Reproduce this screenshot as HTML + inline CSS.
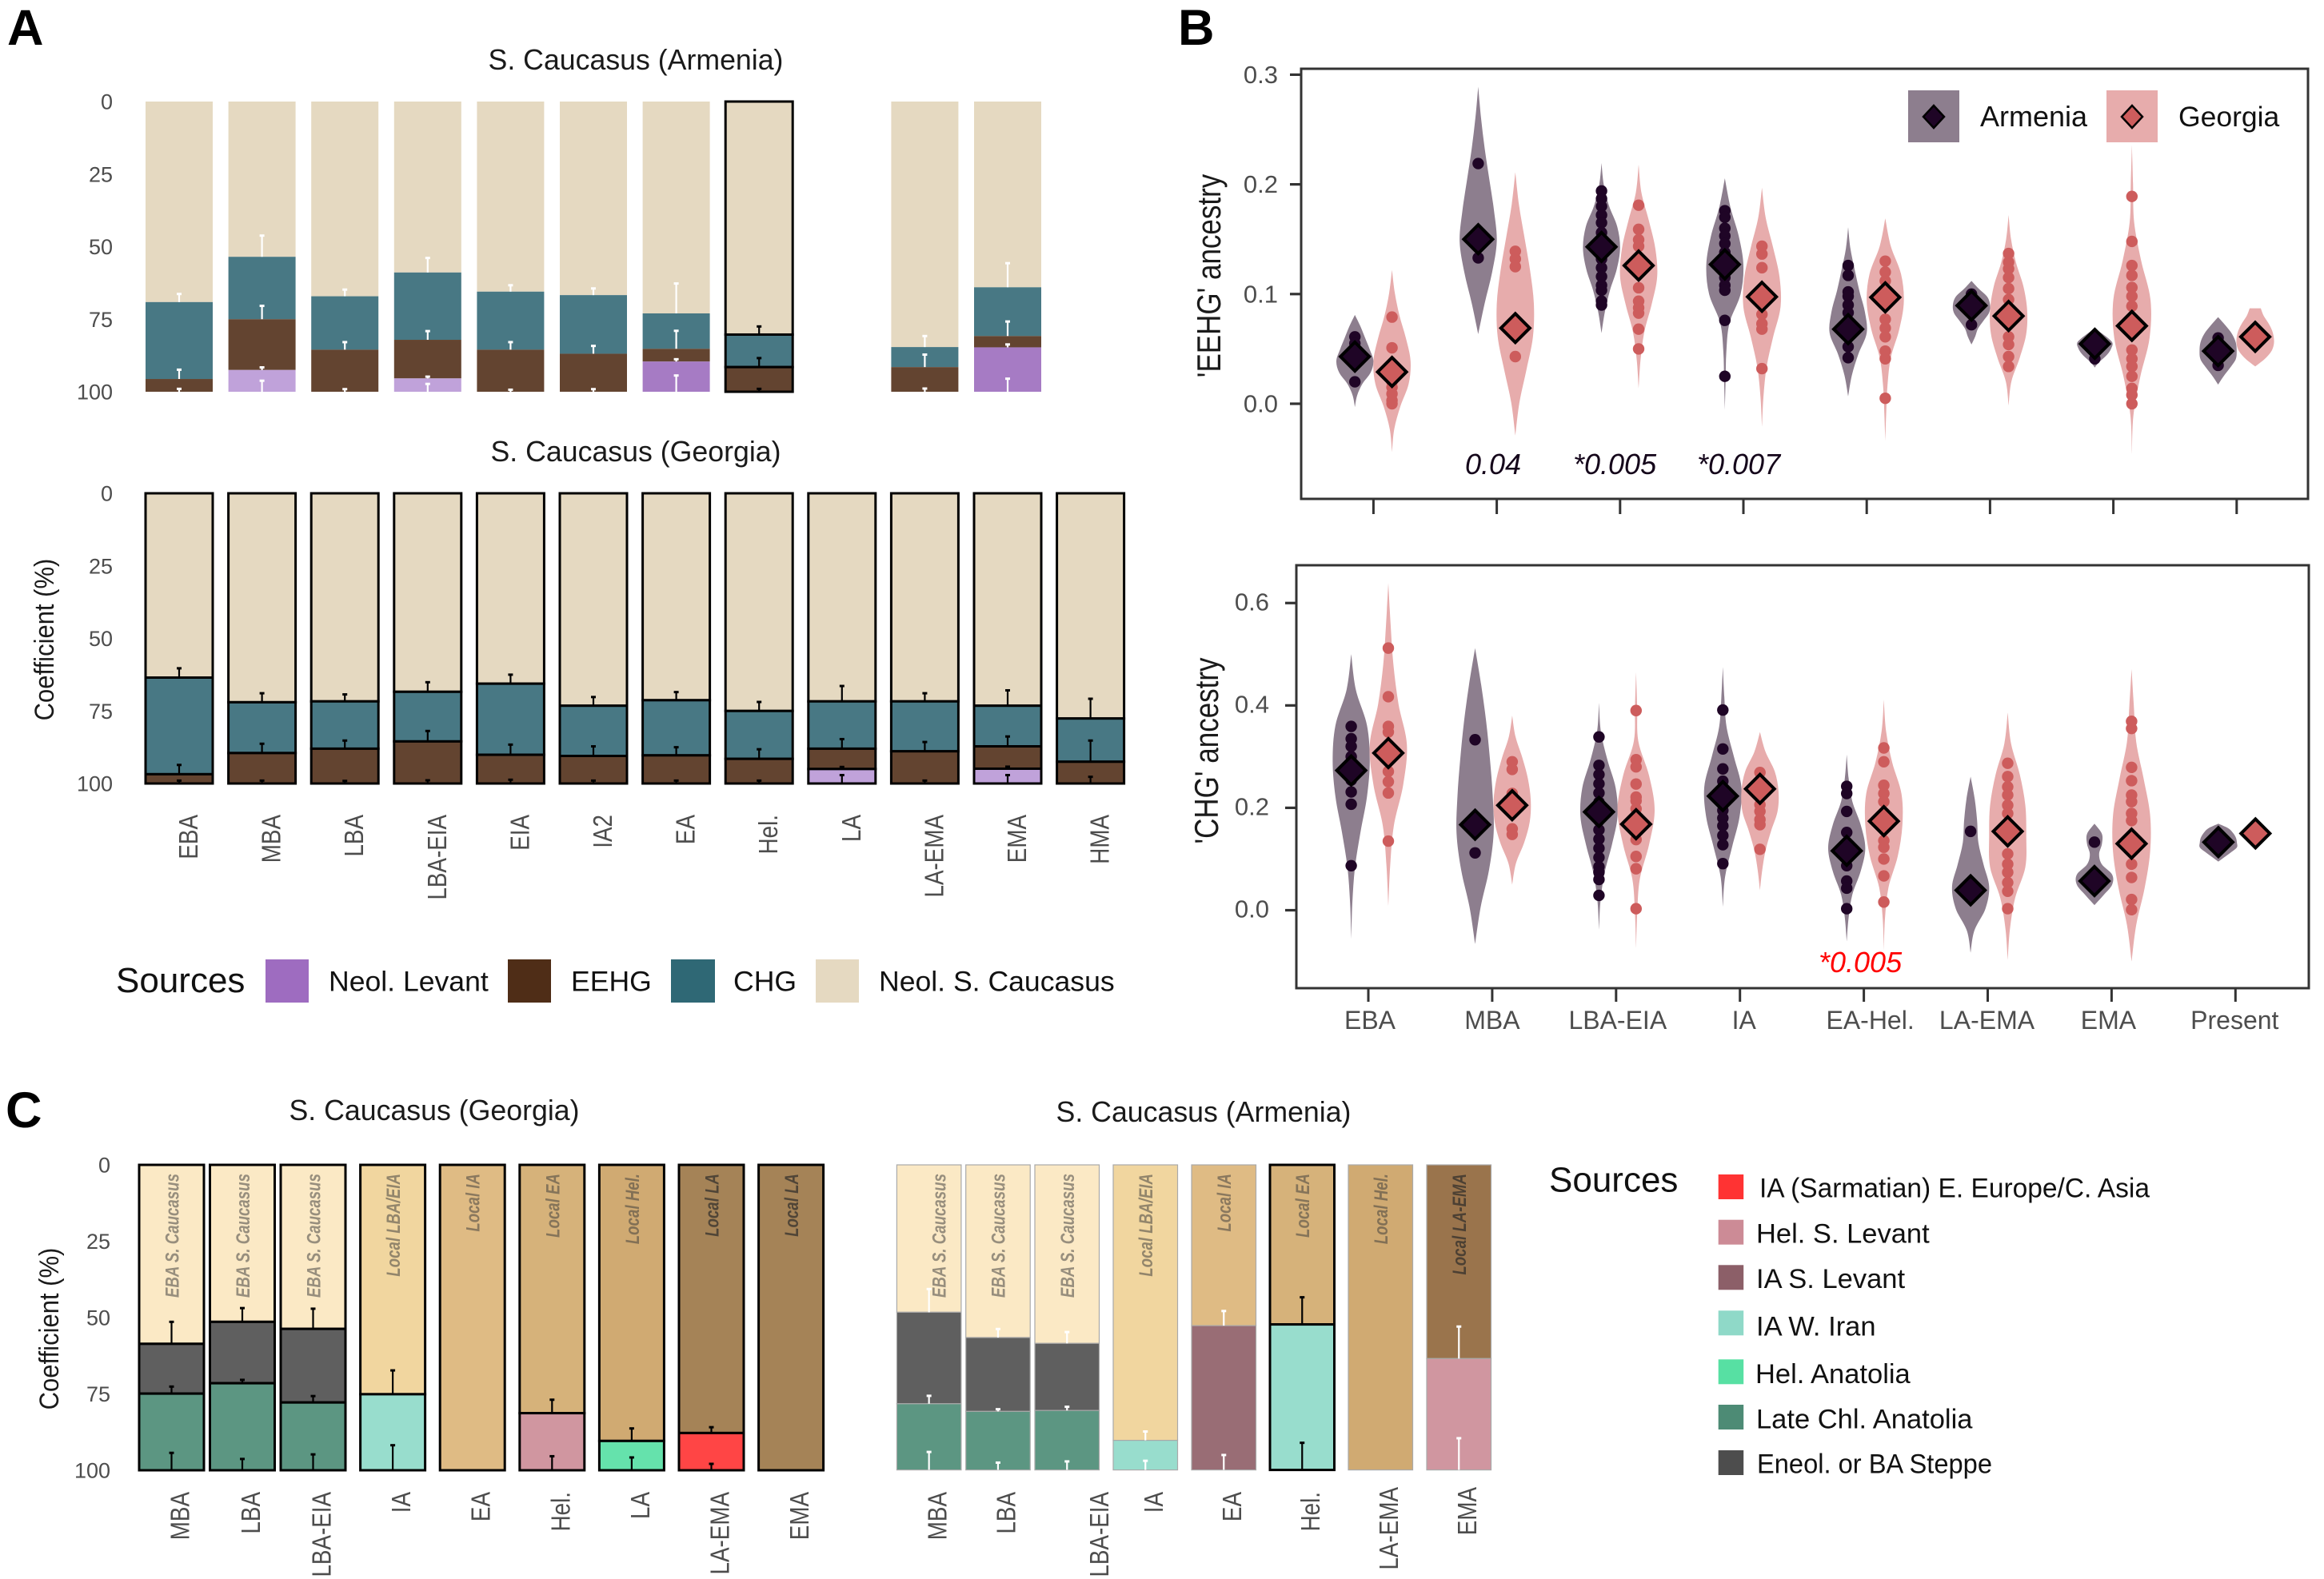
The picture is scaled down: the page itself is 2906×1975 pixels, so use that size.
<!DOCTYPE html>
<html lang="en">
<head>
<meta charset="utf-8">
<title>Ancestry coefficients in the South Caucasus</title>
<style>
html,body{margin:0;padding:0;background:#fff;}
svg{display:block;font-family:"Liberation Sans",sans-serif;}
</style>
</head>
<body>
<svg id="figure" xmlns="http://www.w3.org/2000/svg" width="2906" height="1975" viewBox="0 0 2906 1975">
<rect width="2906" height="1975" fill="#fff"/>

<text x="9" y="56" font-size="63" font-weight="bold">A</text>
<text x="1473" y="56" font-size="63" font-weight="bold">B</text>
<text x="7" y="1410" font-size="63" font-weight="bold">C</text>

<text x="795" y="87" font-size="35.7" text-anchor="middle" fill="#1a1a1a">S. Caucasus (Armenia)</text>
<text x="795" y="577" font-size="35.7" text-anchor="middle" fill="#1a1a1a">S. Caucasus (Georgia)</text>
<text x="543" y="1401" font-size="35.7" text-anchor="middle" fill="#1a1a1a">S. Caucasus (Georgia)</text>
<text x="1505" y="1403" font-size="35.7" text-anchor="middle" fill="#1a1a1a">S. Caucasus (Armenia)</text>

<text transform="translate(67,800) rotate(-90) scale(1,1.1)" font-size="31" text-anchor="middle" fill="#1a1a1a">Coefficient (%)</text>
<text transform="translate(73,1662) rotate(-90) scale(1,1.1)" font-size="31" text-anchor="middle" fill="#1a1a1a">Coefficient (%)</text>
<text transform="translate(1526,345) rotate(-90) scale(1,1.18)" font-size="35" text-anchor="middle" fill="#1a1a1a">'EEHG' ancestry</text>
<text transform="translate(1523,939) rotate(-90) scale(1,1.18)" font-size="35" text-anchor="middle" fill="#1a1a1a">'CHG' ancestry</text>

<g>
  <text x="145" y="1241" font-size="44" fill="#111">Sources</text>
  <rect x="332" y="1200" width="54" height="54" fill="#9e6cc0"/>
  <text x="411" y="1239.5" font-size="35.6" fill="#111">Neol. Levant</text>
  <rect x="635" y="1200" width="54" height="54" fill="#4f2d17"/>
  <text x="714" y="1239.5" font-size="35.6" fill="#111">EEHG</text>
  <rect x="839" y="1200" width="55" height="54" fill="#2f6875"/>
  <text x="917" y="1239.5" font-size="35.6" fill="#111">CHG</text>
  <rect x="1020" y="1200" width="54" height="54" fill="#e5d9c1"/>
  <text x="1099" y="1239.5" font-size="35.6" fill="#111">Neol. S. Caucasus</text>
</g>

<g>
  <text x="1937" y="1490.5" font-size="44" fill="#111">Sources</text>
  <rect x="2148.7" y="1469" width="31.5" height="31" fill="#ff3333"/>
  <text x="2200" y="1497.3" font-size="34.5" fill="#111" textLength="488" lengthAdjust="spacingAndGlyphs">IA (Sarmatian) E. Europe/C. Asia</text>
  <rect x="2148.7" y="1525.7" width="31.5" height="31" fill="#cc8b96"/>
  <text x="2196" y="1554.3" font-size="34.5" fill="#111">Hel. S. Levant</text>
  <rect x="2148.7" y="1582.3" width="31.5" height="31" fill="#8c5f68"/>
  <text x="2196" y="1611" font-size="34.5" fill="#111">IA S. Levant</text>
  <rect x="2148.7" y="1639.3" width="31.5" height="31" fill="#8fd9c8"/>
  <text x="2196" y="1670.7" font-size="34.5" fill="#111">IA W. Iran</text>
  <rect x="2148.7" y="1700.3" width="31.5" height="31" fill="#57e0a3"/>
  <text x="2195" y="1730" font-size="34.5" fill="#111">Hel. Anatolia</text>
  <rect x="2148.7" y="1757" width="31.5" height="31" fill="#4d8b75"/>
  <text x="2196" y="1786.7" font-size="34.5" fill="#111">Late Chl. Anatolia</text>
  <rect x="2148.7" y="1814" width="31.5" height="31" fill="#4d4d4d"/>
  <text x="2197" y="1842.7" font-size="34.5" fill="#111" textLength="294" lengthAdjust="spacingAndGlyphs">Eneol. or BA Steppe</text>
</g>

<g id="plot-a-armenia"></g>
<g id="plot-a-georgia"></g>
<g id="plot-c-georgia"></g>
<g id="plot-c-armenia"></g>
<g id="plot-b-eehg"></g>
<g id="plot-b-chg"></g>

<g>
  <rect x="2386" y="113" width="64" height="65" fill="#8d7e8e"/>
  <path d="M2418 132 L2431 146 L2418 160 L2405 146 Z" fill="#1f0526" stroke="#000" stroke-width="2.5"/>
  <text x="2476" y="158" font-size="36" fill="#111">Armenia</text>
  <rect x="2634" y="113" width="64" height="65" fill="#e7acac"/>
  <path d="M2666 132 L2679 146 L2666 160 L2653 146 Z" fill="#cd5c5c" stroke="#000" stroke-width="2.5"/>
  <text x="2724" y="158" font-size="35.5" fill="#111">Georgia</text>
</g>

<text x="1832" y="593" font-size="36" font-style="italic" fill="#14051a">0.04</text>
<text x="1967" y="593" font-size="36" font-style="italic" fill="#14051a">*0.005</text>
<text x="2122" y="593" font-size="36" font-style="italic" fill="#14051a">*0.007</text>
<text x="2274" y="1216" font-size="36" font-style="italic" fill="#ff0000">*0.005</text>
</svg>

<script>
/* ---------- Panel A, Armenia ---------- */
const aArmCategories = ['EBA','MBA','LBA','LBA-EIA','EIA','IA2','EA','Hel.','LA','LA-EMA','EMA'];
const aArmNeolCaucasus = [69.1,53.5,67.1,58.9,65.5,66.7,73.0,80.3,null,84.6,64.0];
const aArmChg = [26.5,21.5,18.4,23.2,20.0,20.2,12.2,11.2,null,6.9,16.8];
const aArmEehg = [4.4,17.5,14.5,13.3,14.5,13.1,4.4,8.5,null,8.5,3.9];
const aArmLevant = [0,7.5,0,4.6,0,0,10.4,0,null,0,15.3];
const aArmNeolErr = [2.8,7.3,2.3,5.0,2.2,2.3,10.3,2.8,null,3.8,8.3];
const aArmChgErr = [3.2,4.6,2.6,3.0,2.6,2.7,6.2,3.1,null,4.3,5.0];
const aArmEehgErr = [1.0,0.9,0.9,0.6,0.7,0.9,0.8,1.0,null,1.1,1.0];
const aArmLevantErr = [0,3.8,0,2.7,0,0,5.6,0,null,0,4.5];

/* ---------- Panel A, Georgia ---------- */
const aGeoCategories = ['EBA','MBA','LBA','LBA-EIA','EIA','IA2','EA','Hel.','LA','LA-EMA','EMA','HMA'];
const aGeoNeolCaucasus = [63.5,72.0,71.7,68.4,65.6,73.2,71.3,75.0,71.7,71.7,73.2,77.6];
const aGeoChg = [33.3,17.5,16.3,17.1,24.5,17.3,19.0,16.5,16.3,17.2,14.0,14.9];
const aGeoEehg = [3.2,10.5,12.0,14.5,9.9,9.5,9.7,8.5,7.0,11.1,7.7,7.5];
const aGeoLevant = [0,0,0,0,0,0,0,0,5.0,0,5.1,0];
const aGeoNeolErr = [3.2,3.1,2.4,3.3,3.1,3.0,2.8,3.1,5.3,2.8,5.3,6.8];
const aGeoChgErr = [3.2,3.2,2.8,3.6,3.5,3.3,2.8,3.3,3.3,3.2,3.4,7.3];
const aGeoEehgErr = [1.0,1.0,0.9,1.1,1.3,1.0,1.0,1.0,0.7,1.0,0.7,2.3];
const aGeoLevantErr = [0,0,0,0,0,0,0,0,2.9,0,2.9,0];

const coefficientTicks = [0,25,50,75,100];

/* ---------- Panel C, Georgia ---------- */
const cGeoCategories = ['MBA','LBA','LBA-EIA','IA','EA','Hel.','LA','LA-EMA','EMA'];
const cGeoLocalSources = ['EBA S. Caucasus','EBA S. Caucasus','EBA S. Caucasus','Local LBA/EIA','Local IA','Local EA','Local Hel.','Local LA','Local LA'];
const cGeoLocalPct = [58.6,51.4,53.7,75.1,100,81.3,90.4,87.8,100];
const cGeoSteppePct = [16.3,20.1,24.1,0,0,0,0,0,0];
const cGeoLateChlPct = [25.1,28.5,22.2,0,0,0,0,0,0];
const cGeoIaWIranPct = [0,0,0,24.9,0,0,0,0,0];
const cGeoHelSLevantPct = [0,0,0,0,0,18.7,0,0,0];
const cGeoHelAnatoliaPct = [0,0,0,0,0,0,9.6,0,0];
const cGeoSarmatianPct = [0,0,0,0,0,0,0,12.2,0];
const cGeoLocalErr = [7.2,4.5,6.6,7.8,0,4.4,4.1,1.9,0];
const cGeoSteppeErr = [2.3,1.1,2.1,0,0,0,0,0,0];
const cGeoLowerErr = [5.7,3.7,5.2,8.2,0,4.6,4.2,2.1,0];

/* ---------- Panel C, Armenia ---------- */
const cArmCategories = ['MBA','LBA','LBA-EIA','IA','EA','Hel.','LA-EMA','EMA'];
const cArmLocalSources = ['EBA S. Caucasus','EBA S. Caucasus','EBA S. Caucasus','Local LBA/EIA','Local IA','Local EA','Local Hel.','Local LA-EMA'];
const cArmLocalPct = [48.3,56.6,58.5,90.3,52.7,52.3,100,63.5];
const cArmSteppePct = [30.0,24.2,22.0,0,0,0,0,0];
const cArmLateChlPct = [21.7,19.2,19.5,0,0,0,0,0];
const cArmIaWIranPct = [0,0,0,9.7,0,47.7,0,0];
const cArmIaSLevantPct = [0,0,0,0,47.3,0,0,0];
const cArmHelSLevantPct = [0,0,0,0,0,0,0,36.5];
const cArmLocalErr = [7.6,2.8,3.7,2.9,4.8,8.9,0,10.5];
const cArmSteppeErr = [2.6,0.7,1.2,0,0,0,0,0];
const cArmLowerErr = [5.9,2.4,2.8,3.0,4.9,8.9,0,10.4];

/* ---------- Panel B, shared ---------- */
const bPeriods = ['EBA','MBA','LBA-EIA','IA','EA-Hel.','LA-EMA','EMA','Present'];
const eehgTicks = [0.0,0.1,0.2,0.3];
const chgTicks = [0.0,0.2,0.4,0.6];

/* ---------- Panel B, EEHG ---------- */
const eehgArmeniaLo = [-0.003,0.0635,0.0644,-0.0055,0.0067,0.054,0.033,0.0175];
const eehgArmeniaHi = [0.081,0.289,0.2194,0.2055,0.161,0.112,0.069,0.079];
const eehgArmeniaDensity = [
 [0,.12,.4,.85,1,.8,.55,.3,0],
 [0,.35,.75,1,.85,.6,.35,.15,0],
 [0,.18,.45,.82,1,.85,.4,.12,0],
 [0,.04,.08,.25,.85,1,.75,.3,0],
 [0,.2,.55,1,.9,.6,.35,.12,0],
 [0,.2,.35,.65,.95,1,.85,.4,0],
 [0,.2,.5,.75,.9,.95,.7,.35,0],
 [0,.3,.65,.95,1,.95,.75,.4,0]
];
const eehgArmeniaPoints = [
 [.061,.055,.05,.045,.02],
 [.219,.133],
 [.194,.187,.18,.172,.165,.156,.148,.14,.132,.124,.116,.108,.1035,.0935,.09],
 [.176,.17,.16,.153,.146,.138,.13,.122,.115,.108,.1035,.076,.025],
 [.126,.117,.102,.098,.09,.083,.07,.061,.052,.042],
 [.1,.085,.072],
 [.055,.041],
 [.06,.05,.035]
];
const eehgArmeniaMean = [.043,.15,.143,.127,.068,.0895,.0546,.048];

const eehgGeorgiaLo = [-0.044,-0.029,0.014,-0.021,-0.034,-0.0015,-0.046,0.034];
const eehgGeorgiaHi = [0.122,0.211,0.218,0.197,0.169,0.172,0.236,0.087];
const eehgGeorgiaDensity = [
 [0,.12,.45,.9,1,.75,.4,.15,0],
 [0,.22,.6,.95,1,.8,.5,.2,0],
 [0,.1,.3,.7,1,.9,.55,.15,0],
 [0,.08,.25,.6,1,.95,.6,.2,0],
 [0,.05,.12,.3,.75,1,.85,.3,0],
 [0,.15,.6,.95,1,.8,.4,.13,0],
 [0,.08,.45,.95,1,.5,.12,.06,0],
 [0,.5,.85,1,1,.9,.7,.45,.3]
];
const eehgGeorgiaPoints = [
 [.079,.051,.02,.015,.009,.003,0],
 [.139,.132,.125,.043],
 [.181,.159,.1495,.1436,.1057,.0935,.0875,.0826,.068,.05],
 [.1436,.1365,.124,.0815,.073,.068,.032],
 [.13,.12,.112,.077,.069,.061,.048,.041,.005],
 [.137,.129,.123,.115,.105,.095,.061,.054,.043,.034],
 [.189,.148,.126,.117,.106,.098,.089,.049,.041,.034,.025,.014,.008,0],
 [.061]
];
const eehgGeorgiaMean = [.029,.069,.126,.0975,.097,.08,.071,.061];

/* ---------- Panel B, CHG ---------- */
const chgArmeniaLo = [-0.056,-0.066,-0.038,0.0066,-0.061,-0.083,0.01,0.095];
const chgArmeniaHi = [0.5,0.512,0.405,0.475,0.304,0.261,0.169,0.169];
const chgArmeniaDensity = [
 [0,.06,.2,.5,.85,1,.85,.25,0],
 [0,.3,.75,1,.95,.8,.6,.33,0],
 [0,.08,.3,.7,1,.9,.45,.1,0],
 [0,.12,.5,.9,1,.6,.2,.08,0],
 [0,.1,.3,.75,1,.75,.3,.1,0],
 [0,.2,.8,1,.7,.42,.35,.22,0],
 [0,.5,.95,.95,.4,.25,.4,.4,0],
 [0,.35,.7,1,1,.95,.8,.55,0]
];
const chgArmeniaPoints = [
 [.359,.335,.32,.3,.254,.231,.207,.087],
 [.333,.112],
 [.3385,.283,.265,.247,.229,.211,.193,.175,.157,.139,.121,.103,.085,.074,.06,.029],
 [.391,.315,.276,.252,.23,.21,.195,.18,.165,.146,.128,.091],
 [.242,.228,.193,.152,.087,.057,.043,.003],
 [.154],
 [.133],
 [.133]
];
const chgArmeniaMean = [.273,.167,.192,.223,.116,.039,.057,.133];

const chgGeorgiaLo = [0.008,0.05,-0.074,0.039,-0.078,-0.097,-0.1,0.135];
const chgGeorgiaHi = [0.639,0.38,0.465,0.348,0.411,0.386,0.471,0.165];
const chgGeorgiaDensity = [
 [0,.1,.3,.8,1,.55,.27,.12,0],
 [0,.2,.65,.95,1,.85,.55,.18,0],
 [0,.06,.2,.7,1,.7,.12,.06,0],
 [0,.12,.3,.6,.95,1,.8,.3,0],
 [0,.06,.25,.75,1,.95,.45,.12,0],
 [0,.12,.4,.95,1,.95,.65,.18,0],
 [0,.25,.7,1,1,.65,.25,.12,0],
 [0,.1,.2,.3,.3,.3,.2,.1,0]
];
const chgGeorgiaPoints = [
 [.512,.417,.359,.348,.271,.251,.229,.135],
 [.29,.275,.228,.159,.148],
 [.39,.294,.28,.2465,.221,.2137,.198,.138,.105,.081,.003],
 [.269,.206,.193,.177,.167,.119],
 [.317,.29,.244,.228,.212,.136,.123,.1,.067,.016],
 [.287,.261,.241,.225,.205,.189,.11,.09,.074,.054,.037,.003],
 [.369,.355,.279,.253,.225,.212,.189,.175,.09,.064,.021,.001],
 [.15]
];
const chgGeorgiaMean = [.307,.205,.168,.237,.174,.154,.13,.15];

/* ---------- helpers ---------- */
const SVG_NS = 'http://www.w3.org/2000/svg';
function mk(tag, parent, props){
  const el = document.createElementNS(SVG_NS, tag);
  for (const k in props) el.setAttribute(k, props[k]);
  parent.appendChild(el);
  return el;
}
function slug(s){ return String(s).toLowerCase().replace(/[^a-z0-9]+/g,'-').replace(/^-|-$/g,''); }

function drawStack(group, cfg){
  const y = v => cfg.y0 + (cfg.y100 - cfg.y0) * v / 100;
  cfg.categories.forEach((cat, i) => {
    const x = cfg.x(i);
    const outlined = cfg.outlined(cat);
    let cum = 0;
    cfg.series.forEach(s => {
      const v = s.values[i];
      if (!v) return;
      const seg = mk('rect', group, {x:x, y:y(cum), width:cfg.barWidth, height:y(cum+v)-y(cum), fill:s.fill(i)});
      
      
      if (outlined){ seg.setAttribute('stroke','#000'); seg.setAttribute('stroke-width','3'); }
      else if (cfg.edge){ seg.setAttribute('stroke',cfg.edge); seg.setAttribute('stroke-width','1.2'); }
      cum += v;
    });
    let cum2 = 0;
    cfg.series.forEach(s => {
      const v = s.values[i];
      if (!v) return;
      cum2 += v;
      const e = s.errs[i];
      if (!e) return;
      const ink = outlined ? '#000' : cfg.errInk;
      const cx = x + cfg.barWidth/2;
      const stem = mk('line', group, {x1:cx, x2:cx, y1:y(cum2), y2:y(cum2-e), stroke:ink, 'stroke-width':2.2});
      
      
      const cap = mk('rect', group, {x:cx-3, y:y(cum2-e)-1.5, width:6, height:3, fill:ink});
      
      
    });
  });
  if (cfg.tickRight){
    coefficientTicks.forEach(t => {
      const lab = mk('text', group, {x:cfg.tickRight, y:y(t)+9.5, 'font-size':27, 'text-anchor':'end', fill:'#4d4d4d'});
      lab.textContent = t;
      
      
    });
  }
}

function rotatedLabel(group, text, x, y, size, ink, extra){
  const el = mk('text', group, {transform:'translate('+x+','+y+') rotate(-90) scale(1,'+(extra||1.2)+')', 'font-size':size, 'text-anchor':'end', fill:ink});
  el.textContent = text;
  return el;
}

/* ---------- Panel A ---------- */
const neolFill = '#e5d9c1', chgFill = '#487884', eehgFill = '#634430', levantStrong = '#a67bc4', levantWeak = '#c0a2da';
const aBarX = i => 182 + 103.6*i;
const aArmLevantFill = i => (aArmCategories[i]==='EA' || aArmCategories[i]==='EMA') ? levantStrong : levantWeak;

drawStack(document.getElementById('plot-a-armenia'), {
  categories:aArmCategories, x:aBarX, barWidth:84, y0:127, y100:490, tickRight:141, errInk:'#fff',
  outlined:c => c==='Hel.',
  series:[
    {name:'Neol. S. Caucasus', values:aArmNeolCaucasus, errs:aArmNeolErr, fill:()=>neolFill},
    {name:'CHG', values:aArmChg, errs:aArmChgErr, fill:()=>chgFill},
    {name:'EEHG', values:aArmEehg, errs:aArmEehgErr, fill:()=>eehgFill},
    {name:'Neol. Levant', values:aArmLevant, errs:aArmLevantErr, fill:aArmLevantFill}
  ]
});
const aGeoGroup = document.getElementById('plot-a-georgia');
drawStack(aGeoGroup, {
  categories:aGeoCategories, x:aBarX, barWidth:84, y0:617, y100:980, tickRight:141, errInk:'#000',
  outlined:() => true,
  series:[
    {name:'Neol. S. Caucasus', values:aGeoNeolCaucasus, errs:aGeoNeolErr, fill:()=>neolFill},
    {name:'CHG', values:aGeoChg, errs:aGeoChgErr, fill:()=>chgFill},
    {name:'EEHG', values:aGeoEehg, errs:aGeoEehgErr, fill:()=>eehgFill},
    {name:'Neol. Levant', values:aGeoLevant, errs:aGeoLevantErr, fill:()=>levantWeak}
  ]
});
aGeoCategories.forEach((c,i) => {
  const lab = rotatedLabel(aGeoGroup, c, aBarX(i)+42+23, 1019, 27.8, '#4d4d4d');
  
  
});

/* ---------- Panel C ---------- */
const localFills = {'EBA S. Caucasus':'#fbe9c5','Local LBA/EIA':'#f1d69f','Local IA':'#dfbb84','Local EA':'#d6b27a','Local Hel.':'#d0aa72','Local LA':'#a58357','Local LA-EMA':'#9a744c'};
const cGeoBarX = i => 174 + 88.5*Math.min(i,2) + 99.6*Math.max(i-2,0);
const cArmBarX = i => 1121.4 + 86.3*Math.min(i,2) + 98*Math.max(i-2,0);
const localInk = s => (s==='Local LA' || s==='Local LA-EMA') ? 'rgba(40,40,40,.68)' : 'rgba(60,60,60,.52)';

const cGeoGroup = document.getElementById('plot-c-georgia');
drawStack(cGeoGroup, {
  categories:cGeoCategories, x:cGeoBarX, barWidth:81, y0:1457, y100:1839, tickRight:138, errInk:'#000',
  outlined:() => true,
  series:[
    {name:'Local', values:cGeoLocalPct, errs:cGeoLocalErr, fill:i=>localFills[cGeoLocalSources[i]]},
    {name:'Eneol. or BA Steppe', values:cGeoSteppePct, errs:cGeoSteppeErr, fill:()=>'#5f5f5f'},
    {name:'Late Chl. Anatolia', values:cGeoLateChlPct, errs:cGeoLowerErr, fill:()=>'#5c9682'},
    {name:'IA W. Iran', values:cGeoIaWIranPct, errs:cGeoLowerErr, fill:()=>'#98ddcd'},
    {name:'Hel. S. Levant', values:cGeoHelSLevantPct, errs:cGeoLowerErr, fill:()=>'#d096a0'},
    {name:'Hel. Anatolia', values:cGeoHelAnatoliaPct, errs:cGeoLowerErr, fill:()=>'#65e2ac'},
    {name:'Sarmatian', values:cGeoSarmatianPct, errs:cGeoLowerErr, fill:()=>'#ff4545'}
  ]
});
cGeoCategories.forEach((c,i) => {
  const lab = rotatedLabel(cGeoGroup, c, cGeoBarX(i)+40.5+22, 1866, 27.8, '#4d4d4d');
  
  
  const s = cGeoLocalSources[i];
  const inner = mk('text', cGeoGroup, {transform:'translate('+(cGeoBarX(i)+40.5+9)+',1468) rotate(-90) scale(1,1.3)', 'font-size':18.7, 'font-weight':'bold', 'font-style':'italic', 'text-anchor':'end', fill:localInk(s)});
  inner.textContent = s;
  
  
});

const cArmGroup = document.getElementById('plot-c-armenia');
drawStack(cArmGroup, {
  categories:cArmCategories, x:cArmBarX, barWidth:80.5, y0:1457, y100:1838.6, errInk:'#fff', edge:'#a9a9a9',
  outlined:c => c==='Hel.',
  series:[
    {name:'Local', values:cArmLocalPct, errs:cArmLocalErr, fill:i=>localFills[cArmLocalSources[i]]},
    {name:'Eneol. or BA Steppe', values:cArmSteppePct, errs:cArmSteppeErr, fill:()=>'#5f5f5f'},
    {name:'Late Chl. Anatolia', values:cArmLateChlPct, errs:cArmLowerErr, fill:()=>'#5c9682'},
    {name:'IA W. Iran', values:cArmIaWIranPct, errs:cArmLowerErr, fill:()=>'#98ddcd'},
    {name:'IA S. Levant', values:cArmIaSLevantPct, errs:cArmLowerErr, fill:()=>'#996d75'},
    {name:'Hel. S. Levant', values:cArmHelSLevantPct, errs:cArmLowerErr, fill:()=>'#d096a0'}
  ]
});
cArmCategories.forEach((c,i) => {
  const nudge = c==='LBA-EIA' ? 30 : 0;
  const top = i>=6 ? 1860 : 1866;
  const lab = rotatedLabel(cArmGroup, c, cArmBarX(i)+40+22+nudge, top, 27.8, '#4d4d4d');
  
  
  const s = cArmLocalSources[i];
  const shift = i===0 ? 12 : 0;
  const inner = mk('text', cArmGroup, {transform:'translate('+(cArmBarX(i)+40+9+shift)+',1468) rotate(-90) scale(1,1.3)', 'font-size':18.7, 'font-weight':'bold', 'font-style':'italic', 'text-anchor':'end', fill:localInk(s)});
  inner.textContent = s;
  
  
});

/* ---------- Panel B ---------- */
const violinHalf = 23.2;
const armeniaViolin = '#8d7e8e', georgiaViolin = '#e7acac', armeniaMark = '#1f0526', georgiaMark = '#cd5c5c';

function catmull(pts){
  let d = '';
  for (let i=0;i<pts.length-1;i++){
    const p0 = pts[Math.max(i-1,0)], p1 = pts[i], p2 = pts[i+1], p3 = pts[Math.min(i+2,pts.length-1)];
    d += ' C'+(p1[0]+(p2[0]-p0[0])/6).toFixed(2)+' '+(p1[1]+(p2[1]-p0[1])/6).toFixed(2)+' '
        +(p2[0]-(p3[0]-p1[0])/6).toFixed(2)+' '+(p2[1]-(p3[1]-p1[1])/6).toFixed(2)+' '
        +p2[0].toFixed(2)+' '+p2[1].toFixed(2);
  }
  return d;
}
function violinPath(cx, lo, hi, dens, y){
  const n = dens.length;
  const right = dens.map((d,k) => [cx + d*violinHalf, y(lo + (hi-lo)*k/(n-1))]);
  const left = dens.map((d,k) => [cx - d*violinHalf, y(lo + (hi-lo)*k/(n-1))]).reverse();
  return 'M'+right[0][0].toFixed(2)+' '+right[0][1].toFixed(2)+catmull(right)
       +' L'+left[0][0].toFixed(2)+' '+left[0][1].toFixed(2)+catmull(left)+' Z';
}
function drawGroup(group, label, x, y, lo, hi, dens, points, mean, violinFill, markFill){
  bPeriods.forEach((p,i) => {
    const cx = x(i);
    const v = mk('path', group, {d:violinPath(cx, lo[i], hi[i], dens[i], y), fill:violinFill});
    
    
    points[i].forEach(val => {
      const dot = mk('circle', group, {cx:cx, cy:y(val), r:7.2, fill:markFill});
      
      
    });
  });
  bPeriods.forEach((p,i) => {
    const cx = x(i), cy = y(mean[i]);
    const m = mk('path', group, {d:'M'+cx+' '+(cy-18)+' L'+(cx+18)+' '+cy+' L'+cx+' '+(cy+18)+' L'+(cx-18)+' '+cy+' Z', fill:markFill, stroke:'#000', 'stroke-width':4, 'stroke-linejoin':'miter'});
    
    
  });
}
function drawBPanel(group, cfg){
  const frame = mk('rect', group, {x:cfg.left, y:cfg.top, width:cfg.right-cfg.left, height:cfg.bottom-cfg.top, fill:'#fff', stroke:'#333', 'stroke-width':3});
  
  
  cfg.ticks.forEach(t => {
    const tick = mk('line', group, {x1:cfg.left-14, x2:cfg.left, y1:cfg.y(t), y2:cfg.y(t), stroke:'#333', 'stroke-width':3.2});
    
    
    const lab = mk('text', group, {x:cfg.tickRight, y:cfg.y(t)+cfg.tickDrop, 'font-size':31, 'text-anchor':'end', fill:'#4d4d4d'});
    lab.textContent = t.toFixed(1);
    
    
  });
  bPeriods.forEach((p,i) => {
    const tx = cfg.tickX(i);
    const tick = mk('line', group, {x1:tx, x2:tx, y1:cfg.bottom, y2:cfg.bottom+cfg.tickLen, stroke:'#333', 'stroke-width':3});
    
    
  });
  drawGroup(group, 'armenia', i=>cfg.center(i)-violinHalf, cfg.y, cfg.arm.lo, cfg.arm.hi, cfg.arm.density, cfg.arm.points, cfg.arm.mean, armeniaViolin, armeniaMark);
  drawGroup(group, 'georgia', i=>cfg.center(i)+violinHalf, cfg.y, cfg.geo.lo, cfg.geo.hi, cfg.geo.density, cfg.geo.points, cfg.geo.mean, georgiaViolin, georgiaMark);
}
const yEehg = v => 505 - 1372*v;
const yChg = v => 1138.5 - 640.4*v;

drawBPanel(document.getElementById('plot-b-eehg'), {
  left:1627, right:2886, top:86, bottom:624, tickLen:19, tickRight:1598, tickDrop:10.5, ticks:eehgTicks, y:yEehg,
  tickX:i=>1717.4+154.2*i, center:i=>1717.4+154.2*i,
  arm:{lo:eehgArmeniaLo, hi:eehgArmeniaHi, density:eehgArmeniaDensity, points:eehgArmeniaPoints, mean:eehgArmeniaMean},
  geo:{lo:eehgGeorgiaLo, hi:eehgGeorgiaHi, density:eehgGeorgiaDensity, points:eehgGeorgiaPoints, mean:eehgGeorgiaMean}
});
const chgGroup = document.getElementById('plot-b-chg');
drawBPanel(chgGroup, {
  left:1621, right:2887, top:707, bottom:1236, tickLen:17, tickRight:1587, tickDrop:9, ticks:chgTicks, y:yChg,
  tickX:i=>1711+154.9*i, center:i=>1712.8+154.9*i,
  arm:{lo:chgArmeniaLo, hi:chgArmeniaHi, density:chgArmeniaDensity, points:chgArmeniaPoints, mean:chgArmeniaMean},
  geo:{lo:chgGeorgiaLo, hi:chgGeorgiaHi, density:chgGeorgiaDensity, points:chgGeorgiaPoints, mean:chgGeorgiaMean}
});
const bLabelShift = [2,0,2,5,8,-1,-4,-1];
bPeriods.forEach((p,i) => {
  const lab = mk('text', chgGroup, {x:1711+154.9*i+bLabelShift[i], y:1287, 'font-size':32, 'text-anchor':'middle', fill:'#4d4d4d'});
  lab.textContent = p;
  
  
});
</script>
</body>
</html>
